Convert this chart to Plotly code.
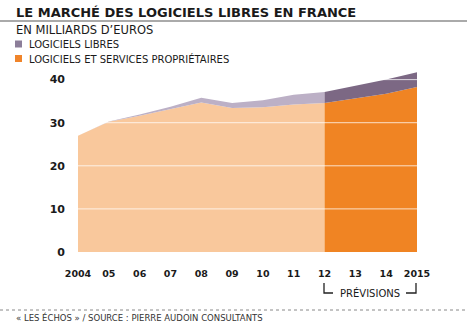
import plotly.graph_objects as go

years = list(range(2004, 2016))
year_labels = ["2004", "05", "06", "07", "08", "09", "10", "11", "12", "13", "14", "2015"]
proprietaires = [27.0, 30.2, 31.6, 33.1, 34.7, 33.4, 33.6, 34.2, 34.6, 35.6, 36.7, 38.3]
libres = [0.0, 0.1, 0.3, 0.6, 1.1, 1.2, 1.6, 2.3, 2.5, 3.0, 3.3, 3.4]
y_ticks = [0, 10, 20, 30, 40]
forecast_start = 2012

totals = [p + l for p, l in zip(proprietaires, libres)]
k = years.index(forecast_start)

C_OR_LIGHT = "#f9c89c"
C_OR_DARK = "#f08423"
C_PU_LIGHT = "#bcb0c6"
C_PU_DARK = "#7c6884"

W, H = 467, 322
L, R, T, B = 78, 50, 71, 70
PW, PH = W - L - R, H - T - B


def px(x):
    return (x - L) / PW


def py(y):
    return (H - B - y) / PH


fig = go.Figure()
fig.add_trace(go.Scatter(x=years[:k + 1], y=proprietaires[:k + 1], mode="lines",
                         line=dict(width=0, color=C_OR_LIGHT), fill="tozeroy",
                         fillcolor=C_OR_LIGHT, showlegend=False, hoverinfo="skip"))
fig.add_trace(go.Scatter(x=years[:k + 1], y=totals[:k + 1], mode="lines",
                         line=dict(width=0, color=C_PU_LIGHT), fill="tonexty",
                         fillcolor=C_PU_LIGHT, showlegend=False, hoverinfo="skip"))
fig.add_trace(go.Scatter(x=years[k:], y=proprietaires[k:], mode="lines",
                         line=dict(width=0, color=C_OR_DARK), fill="tozeroy",
                         fillcolor=C_OR_DARK, showlegend=False, hoverinfo="skip"))
fig.add_trace(go.Scatter(x=years[k:], y=totals[k:], mode="lines",
                         line=dict(width=0, color=C_PU_DARK), fill="tonexty",
                         fillcolor=C_PU_DARK, showlegend=False, hoverinfo="skip"))

shapes = []
# white gridlines over the areas
for v in y_ticks[1:]:
    shapes.append(dict(type="line", xref="x", yref="y", x0=years[0], x1=years[-1], y0=v, y1=v,
                       line=dict(color="rgba(255,255,255,0.75)", width=1), layer="above"))
# title rule
shapes.append(dict(type="line", xref="paper", yref="paper", x0=px(0), x1=px(W), y0=py(21), y1=py(21),
                   line=dict(color="#aaaaaa", width=2)))
# legend squares
shapes.append(dict(type="rect", xref="paper", yref="paper", x0=px(15), x1=px(22), y0=py(47.5), y1=py(40.5),
                   fillcolor="#8c7e99", line=dict(width=0)))
shapes.append(dict(type="rect", xref="paper", yref="paper", x0=px(15), x1=px(22), y0=py(62), y1=py(55),
                   fillcolor="#f0842a", line=dict(width=0)))
# forecast bracket
shapes.append(dict(type="path", xref="paper", yref="paper",
                   path=f"M {px(324)} {py(283)} L {px(324)} {py(293)} L {px(333)} {py(293)}",
                   line=dict(color="#222222", width=1.3)))
shapes.append(dict(type="path", xref="paper", yref="paper",
                   path=f"M {px(406)} {py(293)} L {px(416)} {py(293)} L {px(416)} {py(283)}",
                   line=dict(color="#222222", width=1.3)))
# dotted source rule
shapes.append(dict(type="line", xref="paper", yref="paper", x0=px(0), x1=px(W), y0=py(310), y1=py(310),
                   line=dict(color="#888888", width=1, dash="dot")))

ann = []
ann.append(dict(text="<b>LE MARCHÉ DES LOGICIELS LIBRES EN FRANCE</b>", x=px(14), y=py(12),
                xref="paper", yref="paper", xanchor="left", yanchor="middle", showarrow=False,
                font=dict(family="DejaVu Sans", size=13, color="#1a1a1a")))
ann.append(dict(text="EN MILLIARDS D’EUROS", x=px(14), y=py(30.5),
                xref="paper", yref="paper", xanchor="left", yanchor="middle", showarrow=False,
                font=dict(family="DejaVu Sans", size=11.5, color="#1a1a1a")))
ann.append(dict(text="LOGICIELS LIBRES", x=px(27), y=py(44),
                xref="paper", yref="paper", xanchor="left", yanchor="middle", showarrow=False,
                font=dict(family="DejaVu Sans", size=10, color="#1a1a1a")))
ann.append(dict(text="LOGICIELS ET SERVICES PROPRIÉTAIRES", x=px(27), y=py(58.5),
                xref="paper", yref="paper", xanchor="left", yanchor="middle", showarrow=False,
                font=dict(family="DejaVu Sans", size=10, color="#1a1a1a")))
ann.append(dict(text="PRÉVISIONS", x=px(370), y=py(292.5),
                xref="paper", yref="paper", xanchor="center", yanchor="middle", showarrow=False,
                font=dict(family="DejaVu Sans", size=10, color="#1a1a1a")))
ann.append(dict(text="« LES ÉCHOS » / SOURCE : PIERRE AUDOIN CONSULTANTS", x=px(14), y=py(317),
                xref="paper", yref="paper", xanchor="left", yanchor="middle", showarrow=False,
                font=dict(family="DejaVu Sans", size=8.5, color="#333333")))

fig.update_layout(
    width=W, height=H,
    margin=dict(l=L, r=R, t=T, b=B),
    paper_bgcolor="white", plot_bgcolor="white",
    shapes=shapes, annotations=ann,
    showlegend=False,
    xaxis=dict(range=[years[0], years[-1]], tickvals=years, ticktext=year_labels,
               showgrid=False, zeroline=False, showline=False, ticks="",
               ticklabelstandoff=14,
               tickfont=dict(family="DejaVu Sans", size=9.5, color="#1a1a1a", weight="bold")),
    yaxis=dict(range=[0, 42], tickvals=y_ticks, showgrid=False, zeroline=False, showline=False,
               ticks="", ticklabelstandoff=12,
               tickfont=dict(family="DejaVu Sans", size=11, color="#1a1a1a", weight="bold")),
)

fig.write_html("out.html")
